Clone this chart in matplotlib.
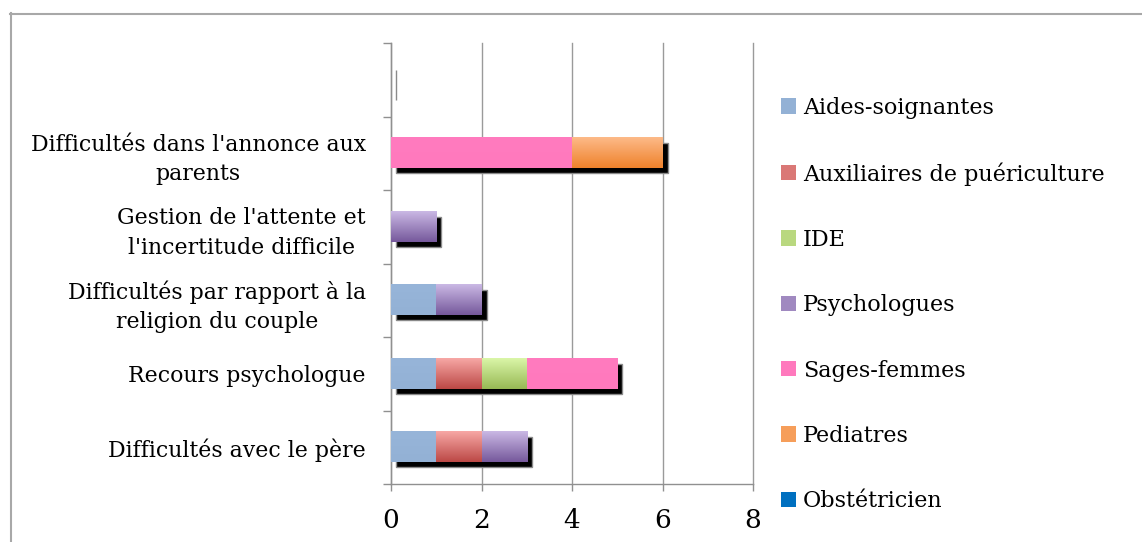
import matplotlib
matplotlib.use("Agg")
import matplotlib.pyplot as plt
import numpy as np
from matplotlib.colors import LinearSegmentedColormap
from matplotlib.patches import Patch
from matplotlib.lines import Line2D
import matplotlib.transforms as mtransforms

plt.rcParams['font.family'] = ['DejaVu Serif']

categories = [
    "Difficultés avec le père",
    "Recours psychologue",
    "Difficultés par rapport à la\nreligion du couple",
    "Gestion de l'attente et\nl'incertitude difficile",
    "Difficultés dans l'annonce aux\nparents",
    "",
]
series_names = ["Aides-soignantes", "Auxiliaires de puériculture", "IDE",
                "Psychologues", "Sages-femmes", "Pediatres", "Obstétricien"]
aides = [1, 1, 1, 0, 0, 0]
auxiliaires = [1, 1, 0, 0, 0, 0]
ide = [0, 1, 0, 0, 0, 0]
psychologues = [1, 0, 1, 1, 0, 0]
sages_femmes = [0, 2, 0, 0, 4, 0]
pediatres = [0, 0, 0, 0, 2, 0]
obstetricien = [0, 0, 0, 0, 0, 0]
x_ticks = [0, 2, 4, 6, 8]

series_values = [aides, auxiliaires, ide, psychologues, sages_femmes, pediatres, obstetricien]
# gradient colours (top, bottom)
grad = [
    ("#97B5D9", "#93B1D5"),
    ("#F7A7A5", "#BC4946"),
    ("#DAF6A8", "#98B955"),
    ("#CAB8E4", "#76599C"),
    ("#FF7BBF", "#FF79BD"),
    ("#FDBA88", "#EF822C"),
    ("#0070C0", "#0070C0"),
]

fig = plt.figure(figsize=(11.42, 5.42), dpi=100)
ax = fig.add_axes([391/1142, 1-484/542, (753-391)/1142, (484-43)/542])

y = np.arange(len(categories))
bar_h = 0.41
totals = np.sum(np.array(series_values), axis=0)

# shadow
shadow_tr = mtransforms.offset_copy(ax.transData, fig=fig, x=5, y=-5, units='dots')
ax.barh(y, totals, height=bar_h, color='black', edgecolor='#8a8a8a',
        linewidth=1.0, transform=shadow_tr, zorder=2)

left = np.zeros(len(categories))
for vals, (ctop, cbot) in zip(series_values, grad):
    vals = np.array(vals, dtype=float)
    bars = ax.barh(y, vals, left=left, height=bar_h, color='none',
                   linewidth=0, zorder=3)
    cmap = LinearSegmentedColormap.from_list("g", [ctop, cbot])
    for b in bars:
        if b.get_width() <= 0:
            continue
        x0, y0 = b.get_x(), b.get_y()
        x1, y1 = x0 + b.get_width(), y0 + b.get_height()
        ax.imshow(np.linspace(0, 1, 64).reshape(-1, 1), cmap=cmap,
                  extent=[x0, x1, y0, y1], origin='upper', aspect='auto',
                  zorder=3, interpolation='bilinear')
    left += vals

ax.set_xlim(0, 8)
ax.set_ylim(-0.5, len(categories) - 0.5)
ax.set_aspect('auto')

ax.set_xticks(x_ticks)
ax.set_xticklabels([str(t) for t in x_ticks], fontsize=19)
ax.set_yticks(y)
ax.set_yticklabels(categories, fontsize=15.8, multialignment='center',
                   linespacing=1.45)
ax.set_yticks(np.arange(-0.5, len(categories)), minor=True)
ax.tick_params(axis='y', which='major', length=0, pad=18)
ax.tick_params(axis='y', which='minor', length=6, color='#909090', width=1)
ax.tick_params(axis='x', which='major', length=5, color='#909090', width=1, pad=12)

ax.grid(axis='x', color='#9a9a9a', linewidth=1.0, zorder=0)
for gl in ax.get_xgridlines():
    gl.set_clip_on(False)
ax.set_axisbelow(True)
for s in ['top', 'right']:
    ax.spines[s].set_visible(False)
for s in ['left', 'bottom']:
    ax.spines[s].set_color('#909090')
    ax.spines[s].set_linewidth(1.0)

handles = [Patch(facecolor=grad[i][1] if i in (0, 4, 6) else
                 (np.array(matplotlib.colors.to_rgb(grad[i][0])) +
                  np.array(matplotlib.colors.to_rgb(grad[i][1]))) / 2,
                 edgecolor='none') for i in range(len(series_names))]
leg = fig.legend(handles, series_names, loc='center left',
                 bbox_to_anchor=(772/1142, 1-304.5/542), frameon=False,
                 fontsize=16, labelspacing=1.95, handlelength=0.68,
                 handleheight=0.68, handletextpad=0.3, borderaxespad=0)

# outer frame (top and left edges visible)
fig.add_artist(Line2D([10.5/1142, 10.5/1142], [0, 1-13/542],
                      transform=fig.transFigure, color='#a8a8a8', linewidth=1.5))
fig.add_artist(Line2D([10/1142, 1], [1-13.5/542, 1-13.5/542],
                      transform=fig.transFigure, color='#a8a8a8', linewidth=1.5))

fig.savefig("out.png", dpi=100)
